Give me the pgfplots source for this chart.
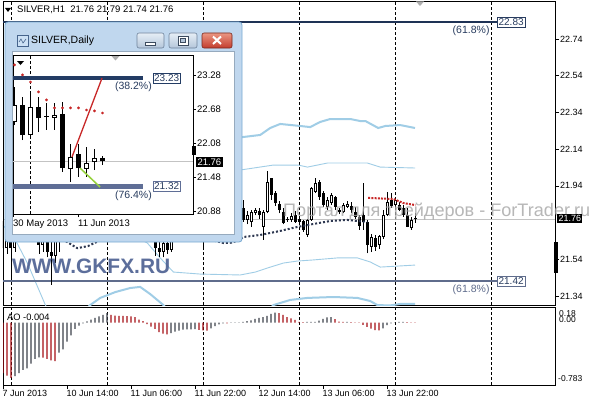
\documentclass[border=0pt]{standalone}
\usepackage{pgfplots}
\pgfplotsset{compat=1.18}
\usepackage{pgfplotstable}
\usepackage{fontspec}
\setmainfont{Liberation Sans}
\usepackage{graphicx}

\definecolor{navyline}{RGB}{30,50,85}
\definecolor{grayblue}{RGB}{95,108,140}
\definecolor{inavy}{RGB}{35,60,100}
\definecolor{igray}{RGB}{95,110,150}
\definecolor{lband}{RGB}{160,205,230}
\definecolor{mdot}{RGB}{45,55,80}
\definecolor{sardot}{RGB}{200,40,40}
\definecolor{aogray}{RGB}{60,65,75}
\definecolor{aored}{RGB}{165,15,20}
\definecolor{framefill}{RGB}{192,215,238}
\definecolor{frameline}{RGB}{120,170,210}
\definecolor{clientline}{RGB}{150,170,190}
\definecolor{wm}{RGB}{75,95,145}
\definecolor{wmtwo}{RGB}{165,165,165}
\definecolor{lblnavy}{RGB}{40,60,95}
\definecolor{grnline}{RGB}{150,210,60}
\definecolor{curline}{RGB}{195,195,195}
\definecolor{btnline}{RGB}{110,130,155}
\definecolor{btntop}{RGB}{230,238,246}
\definecolor{btnbot}{RGB}{180,198,218}
\definecolor{closeline}{RGB}{120,40,30}
\definecolor{closetop}{RGB}{235,150,130}
\definecolor{closebot}{RGB}{195,60,45}
\definecolor{symline}{RGB}{60,75,95}
\definecolor{iconfill}{RGB}{205,225,245}
\definecolor{iconline}{RGB}{70,100,140}
\definecolor{trigray}{RGB}{175,175,175}

\pgfplotstableread{
i o h l c
0 21.75 21.82 21.58 21.60
1 21.60 21.70 21.57 21.66
2 21.66 21.72 21.44 21.60
3 21.60 21.70 21.58 21.68
4 21.68 21.85 21.66 21.80
5 21.80 21.88 21.72 21.75
6 21.75 21.82 21.68 21.78
7 21.78 21.85 21.70 21.72
8 21.72 21.76 21.645 21.67
9 21.67 21.72 21.57 21.62
10 21.62 21.70 21.58 21.66
11 21.66 21.70 21.55 21.58
12 21.58 21.64 21.40 21.56
13 21.56 21.66 21.52 21.64
14 21.64 21.72 21.58 21.70
15 21.70 21.80 21.66 21.78
16 21.78 21.86 21.74 21.84
17 21.84 21.90 21.78 21.80
18 21.80 21.84 21.72 21.76
19 21.76 21.82 21.70 21.79
20 21.79 21.88 21.76 21.86
21 21.86 21.94 21.82 21.90
22 21.90 21.96 21.85 21.87
23 21.87 21.92 21.80 21.83
24 21.83 21.88 21.78 21.86
25 21.86 21.93 21.84 21.91
26 21.91 21.98 21.88 21.95
27 21.95 22.00 21.88 21.90
28 21.90 21.94 21.84 21.86
29 21.86 21.90 21.80 21.82
30 21.82 21.86 21.76 21.84
31 21.84 21.88 21.78 21.80
32 21.80 21.84 21.74 21.77
33 21.77 21.82 21.72 21.80
34 21.80 21.83 21.73 21.75
35 21.75 21.79 21.69 21.72
36 21.72 21.76 21.67 21.74
37 21.74 21.78 21.68 21.70
38 21.70 21.74 21.56 21.60
39 21.60 21.66 21.55 21.58
40 21.58 21.65 21.55 21.63
41 21.63 21.68 21.57 21.59
42 21.59 21.70 21.58 21.67
43 21.67 21.76 21.65 21.74
44 21.74 21.82 21.72 21.80
45 21.80 21.84 21.75 21.77
46 21.77 21.80 21.70 21.72
47 21.72 21.78 21.68 21.76
48 21.76 21.80 21.71 21.73
49 21.73 21.76 21.66 21.70
50 21.70 21.78 21.60 21.74
51 21.74 21.80 21.70 21.78
52 21.78 21.84 21.74 21.76
53 21.76 21.82 21.72 21.80
54 21.80 21.86 21.76 21.78
55 21.78 21.83 21.73 21.75
56 21.75 21.80 21.70 21.78
57 21.78 21.84 21.74 21.82
58 21.82 21.86 21.76 21.79
59 21.79 21.84 21.75 21.817
60 21.817 21.863 21.745 21.754
61 21.754 21.80 21.73 21.78
62 21.745 21.808 21.717 21.799
63 21.792 21.817 21.78 21.808
64 21.80 21.82 21.76 21.78
65 21.717 21.81 21.645 21.799
66 21.799 22.022 21.79 21.962
67 21.981 21.985 21.863 21.890
68 21.903 21.91 21.83 21.845
69 21.84 21.857 21.79 21.81
70 21.799 21.817 21.73 21.736
71 21.755 21.77 21.745 21.752
72 21.754 21.79 21.745 21.775
73 21.781 21.80 21.74 21.745
74 21.76 21.775 21.735 21.745
75 21.750 21.755 21.69 21.699
76 21.672 21.76 21.663 21.754
77 21.754 21.935 21.75 21.926
78 21.908 21.981 21.90 21.954
79 21.962 21.97 21.863 21.881
80 21.899 21.91 21.824 21.835
81 21.826 21.88 21.81 21.863
82 21.845 21.90 21.835 21.89
83 21.881 21.885 21.81 21.826
84 21.81 21.82 21.785 21.795
85 21.799 21.845 21.79 21.835
86 21.826 21.855 21.82 21.842
87 21.83 21.85 21.79 21.81
88 21.799 21.826 21.76 21.772
89 21.77 21.78 21.70 21.72
90 21.78 21.955 21.70 21.745
91 21.745 21.754 21.572 21.617
92 21.608 21.68 21.58 21.663
93 21.654 21.67 21.585 21.608
94 21.617 21.672 21.595 21.666
95 21.663 21.808 21.65 21.781
96 21.781 21.908 21.775 21.853
97 21.863 21.90 21.82 21.83
98 21.835 21.875 21.825 21.863
99 21.835 21.85 21.80 21.808
100 21.82 21.835 21.77 21.781
101 21.781 21.82 21.715 21.717
102 21.708 21.77 21.70 21.754
103 21.758 21.79 21.74 21.762
}\candles

\pgfplotstableread{
k o h l c
0 22.456 23.073 22.40 22.755
1 22.755 22.897 22.138 22.226
2 22.226 22.967 22.20 22.720
3 22.720 22.897 22.279 22.526
4 22.55 22.791 22.315 22.54
5 22.526 22.791 22.315 22.579
6 22.597 22.808 21.574 21.644
7 21.627 22.068 21.397 21.838
8 21.891 22.068 21.486 21.644
9 21.627 22.015 21.486 21.733
10 21.75 21.979 21.609 21.821
11 21.821 21.856 21.70 21.76
}\daily

\pgfplotstableread{
i v
3 -0.758
4 -0.714
5 -0.669
6 -0.647
7 -0.58
8 -0.513
9 -0.49
14 -0.424
15 -0.379
16 -0.268
17 -0.178
18 -0.089
19 -0.04
20 -0.01
21 0.02
22 0.045
23 0.067
24 0.089
25 0.111
26 0.134
42 -0.147
43 -0.125
44 -0.111
45 -0.098
46 -0.096
47 -0.094
48 -0.09
52 -0.08
53 -0.05
54 -0.025
55 -0.008
57 0.004
58 0.005
59 0.006
60 0.012
61 0.022
62 0.031
63 0.054
64 0.067
65 0.08
66 0.098
67 0.125
68 0.143
76 0.01
77 0.01
78 0.012
79 0.03
80 0.055
81 0.075
82 0.078
86 0.012
95 -0.08
96 -0.035
97 -0.01
98 0.006
99 0.01
100 0.012
}\aoup

\pgfplotstableread{
i v
0 -0.714
1 -0.75
2 -0.78
10 -0.495
11 -0.513
12 -0.535
13 -0.544
27 0.111
28 0.10
29 0.098
30 0.096
31 0.094
32 0.089
33 0.08
34 0.045
35 0.022
36 -0.022
37 -0.054
38 -0.089
39 -0.134
40 -0.156
41 -0.165
49 -0.10
50 -0.108
51 -0.112
56 -0.01
69 0.134
70 0.11
71 0.08
72 0.06
73 0.04
74 0.012
75 0.008
83 0.05
84 0.015
85 0.01
87 0.008
88 0.004
89 -0.004
90 -0.03
91 -0.06
92 -0.085
93 -0.105
94 -0.11
101 0.008
102 0.004
103 -0.004
}\aodown

\begin{document}
\begin{tikzpicture}
\fill[white] (0pt,0pt) rectangle (596pt,400pt);

%================ main H1 chart
\begin{axis}[
  at={(3pt,95pt)}, anchor=south west, scale only axis,
  width=552pt, height=304pt,
  xmin=0, xmax=138, ymin=21.2904, ymax=22.9471,
  axis line style={black, line width=0.8pt},
  xtick=\empty,
  ytick={21.34,21.54,21.94,22.14,22.34,22.54,22.74},
  yticklabels={21.34,21.54,21.94,22.14,22.34,22.54,22.74},
  ytick pos=right, yticklabel pos=right, ytick align=outside,
  major tick length=4pt,
  tick style={black, line width=0.6pt},
  yticklabel style={font=\fontsize{9}{10}\selectfont, anchor=west, inner sep=1pt},
  extra x ticks={2,26,50,74,98,122},
  extra x tick labels={,,,,,},
  extra x tick style={grid=major, major tick length=0pt},
  major grid style={black, line width=0.6pt, dash pattern=on 3pt off 2pt},
]
\addplot[curline, line width=0.6pt] coordinates {(0,21.76) (138,21.76)};
% bands
\addplot[lband, line width=2pt] coordinates {(50,22.20) (55,22.20) (60.1,22.206) (64.3,22.217) (66.8,22.255) (69.3,22.277) (74.3,22.266) (76.8,22.260) (79.3,22.288) (81.8,22.304) (86.8,22.304) (89.3,22.293) (90.6,22.293) (93.8,22.255) (95.6,22.266) (99.3,22.271) (103,22.255)};
\addplot[lband, line width=0.9pt] coordinates {(50,22.03) (59.3,22.026) (67.6,22.053) (73.8,22.053) (76.1,22.042) (81.1,22.064) (91.1,22.064) (94.3,22.042) (103,22.037)};
\addplot[lband, line width=0.9pt] coordinates {(30,21.70) (36.1,21.628) (39.3,21.547) (42.6,21.470) (49.3,21.459) (59.3,21.454) (63.1,21.470) (66.1,21.492) (70.1,21.519) (73.6,21.530) (77.6,21.536) (83.6,21.547) (88.6,21.547) (91.8,21.525) (94.3,21.497) (103,21.508)};
\addplot[lband, line width=0.9pt] coordinates {(0,21.726) (3.1,21.645) (6.1,21.519) (10.6,21.29) (13,21.2)};
\addplot[lband, line width=2pt] coordinates {(18,21.2) (21.8,21.290) (24.3,21.329) (28.1,21.361) (31.8,21.383) (34.3,21.389) (36.8,21.350) (40.1,21.290) (44,21.2) (64,21.2) (67.6,21.290) (71.8,21.318) (76.1,21.329) (82.6,21.334) (88.6,21.329) (91.8,21.312) (93.6,21.290) (96.8,21.288) (99.3,21.296) (103,21.296)};
% levels
\addplot[navyline, line width=2pt] coordinates {(0,22.83) (123.5,22.83)};
\addplot[grayblue, line width=2pt] coordinates {(0,21.42) (123.5,21.42)};
% candles: wicks, bodies, white insides
\addplot[draw=none, mark=none, error bars/.cd, y dir=plus, y explicit, error mark=none,
  error bar style={draw=black, line width=0.8pt}]
  table[x=i, y=l, y error plus expr=\thisrow{h}-\thisrow{l}] {\candles};
\addplot[draw=none, mark=none, error bars/.cd, y dir=plus, y explicit, error mark=none,
  error bar style={draw=black, line width=3pt}]
  table[x=i, y expr={min(\thisrow{o},\thisrow{c})}, y error plus expr={max(abs(\thisrow{c}-\thisrow{o}),0.006)}] {\candles};
\addplot[draw=none, mark=none, error bars/.cd, y dir=plus, y explicit, error mark=none,
  error bar style={draw=white, line width=1pt}]
  table[x=i, y expr={\thisrow{o}+0.0055}, y error plus expr={(\thisrow{c}>\thisrow{o})*max(\thisrow{c}-\thisrow{o}-0.011,0)}] {\candles};
% moving average dots and red dots
\addplot[mdot, line width=2pt, dash pattern=on 2pt off 2pt] coordinates {(14,21.66) (18.6,21.600) (21.3,21.612) (24,21.64) (30,21.66) (45,21.66) (53,21.64) (55.2,21.628) (57.2,21.630) (59,21.645) (60.1,21.661) (64.3,21.672) (69.3,21.694) (73.6,21.716) (77.6,21.732) (81.8,21.748) (86.1,21.754) (88.6,21.748) (91.1,21.743)};
\addplot[sardot, line width=2pt, dash pattern=on 2pt off 1.2pt] coordinates {(91.3,21.874) (97.6,21.868) (100.1,21.846) (103.1,21.835)};
% level labels
\node[draw=lblnavy, fill=white, text=lblnavy, inner sep=1.3pt, line width=0.6pt, anchor=west, font=\fontsize{10}{11}\selectfont] at (axis cs:123.5,22.83) {22.83};
\node[text=lblnavy, anchor=north east, inner sep=0.5pt, font=\fontsize{10.5}{11}\selectfont] at (axis cs:121.8,22.815) {(61.8\%)};
\node[draw=grayblue, fill=white, text=lblnavy, inner sep=1.3pt, line width=0.6pt, anchor=west, font=\fontsize{10}{11}\selectfont] at (axis cs:123.5,21.42) {21.42};
\node[text=grayblue, anchor=north east, inner sep=0.5pt, font=\fontsize{10.5}{11}\selectfont] at (axis cs:121.8,21.405) {(61.8\%)};
\end{axis}

%================ AO panel
\begin{axis}[
  at={(3pt,15pt)}, anchor=south west, scale only axis,
  width=552pt, height=78pt,
  xmin=0, xmax=138, ymin=-0.882, ymax=0.222,
  axis line style={black, line width=0.8pt},
  ytick=\empty,
  xtick={0,16,32,48,64,80,96},
  xticklabels={7 Jun 2013,10 Jun 14:00,11 Jun 06:00,11 Jun 22:00,12 Jun 14:00,13 Jun 06:00,13 Jun 22:00},
  xtick pos=bottom, xtick align=outside, major tick length=4pt,
  tick style={black, line width=0.6pt},
  xticklabel style={font=\fontsize{9}{10}\selectfont, anchor=north west, inner sep=1pt, xshift=-1.5pt},
  extra x ticks={2,26,50,74,98,122},
  extra x tick labels={,,,,,},
  extra x tick style={grid=major, major tick length=0pt},
  major grid style={black, line width=0.6pt, dash pattern=on 3pt off 2pt},
]
\addplot[ybar, bar width=1.2pt, bar shift=0pt, fill=aogray, draw=none] table[x=i, y=v] {\aoup};
\addplot[ybar, bar width=1.2pt, bar shift=0pt, fill=aored, draw=none] table[x=i, y=v] {\aodown};
\end{axis}

% AO texts
\node[anchor=west, inner sep=0pt, font=\fontsize{9.3}{10}\selectfont] at (7pt,83pt) {AO -0.004};
\node[anchor=west, inner sep=0pt, font=\fontsize{8.5}{9}\selectfont] at (559pt,86pt) {0.18};
\node[anchor=west, inner sep=0pt, font=\fontsize{8.5}{9}\selectfont] at (559pt,80pt) {0.00};
\node[anchor=west, inner sep=0pt, font=\fontsize{8.5}{9}\selectfont] at (558pt,21pt) {-0.783};

% header
\fill[black] (5pt,392pt) -- (11pt,392pt) -- (8pt,388pt) -- cycle;
\node[anchor=west, inner sep=0pt, font=\fontsize{9.5}{10}\selectfont] at (17pt,390.5pt) {SILVER,H1\ \ 21.76 21.79 21.74 21.76};
\fill[trigray] (416pt,398.5pt) -- (424pt,398.5pt) -- (420pt,394pt) -- cycle;

% watermarks
\node[anchor=west, inner sep=0pt, text=wmtwo, text opacity=0.8] at (283pt,188pt) {\resizebox{307pt}{!}{\fontsize{17}{20}\selectfont Портал для трейдеров - ForTrader.ru}};
\node[anchor=west, inner sep=0pt, text=wm, text opacity=0.9] at (12pt,133.5pt) {\resizebox{158pt}{!}{\fontsize{21}{24}\selectfont\bfseries WWW.GKFX.RU}};

% right-side markers of main chart
\fill[black] (554pt,127pt) rectangle (557.5pt,158pt);
\node[fill=black, text=white, font=\fontsize{9}{10}\selectfont, inner sep=1.3pt, anchor=west] at (557pt,181.5pt) {21.76};

%================ inset window chrome
\draw[draw=frameline, fill=framefill, rounded corners=3pt, line width=0.8pt] (5pt,158pt) rectangle (242pt,378pt);
\draw[draw=clientline, fill=white, line width=0.6pt] (12pt,166pt) rectangle (234pt,349pt);
\draw[fill=iconfill, draw=iconline, line width=0.5pt] (17pt,354pt) rectangle (28pt,365pt);
\draw[iconline, line width=0.6pt] (19pt,358pt) -- (21pt,361pt) -- (23pt,357pt) -- (26pt,361pt);
\node[anchor=west, inner sep=0pt, font=\fontsize{10.5}{12}\selectfont] at (31pt,359pt) {SILVER,Daily};
\draw[draw=btnline, top color=btntop, bottom color=btnbot, rounded corners=2pt, line width=0.6pt] (137pt,352pt) rectangle (164pt,367pt);
\draw[draw=btnline, top color=btntop, bottom color=btnbot, rounded corners=2pt, line width=0.6pt] (169pt,352pt) rectangle (197pt,367pt);
\draw[draw=closeline, top color=closetop, bottom color=closebot, rounded corners=2pt, line width=0.6pt] (202pt,352pt) rectangle (232pt,367pt);
\draw[fill=white, draw=symline, line width=0.5pt] (145.5pt,355pt) rectangle (155.5pt,358pt);
\draw[fill=white, draw=symline, line width=0.5pt] (178pt,355pt) rectangle (188pt,364pt);
\draw[fill=btnbot, draw=symline, line width=0.5pt] (180.5pt,357.5pt) rectangle (185.5pt,361.5pt);
\draw[white, line width=2pt] (213pt,356pt) -- (221pt,363.5pt) (213pt,363.5pt) -- (221pt,356pt);

%================ inset daily chart
\begin{axis}[
  at={(13pt,186pt)}, anchor=south west, scale only axis,
  width=180pt, height=159pt,
  xmin=-0.1875, xmax=22.3125, ymin=20.833, ymax=23.637,
  axis background/.style={fill=white},
  axis line style={black, line width=0.8pt},
  ytick={20.88,21.48,22.08,22.68,23.28},
  yticklabels={20.88,21.48,22.08,22.68,23.28},
  ytick pos=right, yticklabel pos=right, ytick align=outside,
  xtick={-0.1875,7.94}, xticklabels={30 May 2013,11 Jun 2013},
  xtick pos=bottom, xtick align=outside,
  major tick length=3pt,
  tick style={black, line width=0.6pt},
  yticklabel style={font=\fontsize{9.5}{10}\selectfont, anchor=west, inner sep=1pt},
  xticklabel style={font=\fontsize{9.5}{10}\selectfont, anchor=north west, inner sep=1pt, xshift=-1pt, yshift=-2pt},
  extra x ticks={2}, extra x tick labels={},
  extra x tick style={grid=major, major tick length=0pt},
  major grid style={black, line width=0.6pt, dash pattern=on 3pt off 2pt},
]
\addplot[curline, line width=0.6pt] coordinates {(-0.1875,21.76) (22.3125,21.76)};
\addplot[inavy, line width=4.5pt] coordinates {(-0.1875,23.23) (16.06,23.23)};
\addplot[igray, line width=4.5pt] coordinates {(-0.1875,21.32) (16.06,21.32)};
\addplot[draw=none, mark=none, error bars/.cd, y dir=plus, y explicit, error mark=none,
  error bar style={draw=black, line width=1pt}]
  table[x=k, y=l, y error plus expr=\thisrow{h}-\thisrow{l}] {\daily};
\addplot[draw=none, mark=none, error bars/.cd, y dir=plus, y explicit, error mark=none,
  error bar style={draw=black, line width=5pt}]
  table[x=k, y expr={min(\thisrow{o},\thisrow{c})}, y error plus expr={max(abs(\thisrow{c}-\thisrow{o}),0.02)}] {\daily};
\addplot[draw=none, mark=none, error bars/.cd, y dir=plus, y explicit, error mark=none,
  error bar style={draw=white, line width=3pt}]
  table[x=k, y expr={\thisrow{o}+0.018}, y error plus expr={(\thisrow{c}>\thisrow{o})*max(\thisrow{c}-\thisrow{o}-0.036,0)}] {\daily};
\addplot[only marks, mark=*, mark size=1.2pt, sardot] coordinates {(0,23.461) (1,23.285) (2,23.161) (3,22.985) (4,22.844) (5,22.703) (6,22.703) (7,22.703) (8,22.703) (9,22.667) (10,22.650) (11,22.614)};
\addplot[sardot, line width=1.3pt] coordinates {(7.19,21.84) (10.94,23.23)};
\addplot[grnline, line width=1.5pt] coordinates {(8.19,21.644) (10.69,21.309)};
\node[draw=inavy, fill=white, text=lblnavy, inner sep=1.3pt, line width=0.6pt, anchor=west, font=\fontsize{10}{11}\selectfont] at (axis cs:17.25,23.23) {23.23};
\node[text=lblnavy, anchor=north east, inner sep=0.5pt, font=\fontsize{10.5}{11}\selectfont] at (axis cs:17.25,23.17) {(38.2\%)};
\node[draw=igray, fill=white, text=lblnavy, inner sep=1.3pt, line width=0.6pt, anchor=west, font=\fontsize{10}{11}\selectfont] at (axis cs:17.25,21.32) {21.32};
\node[text=lblnavy, anchor=north east, inner sep=0.5pt, font=\fontsize{10.5}{11}\selectfont] at (axis cs:17.25,21.26) {(76.4\%)};
\end{axis}

% inset markers
\fill[black] (17pt,339pt) -- (24pt,339pt) -- (20.5pt,335pt) -- cycle;
\fill[trigray] (111.5pt,344pt) -- (119.5pt,344pt) -- (115.5pt,339.5pt) -- cycle;
\fill[black] (192pt,245pt) rectangle (195.5pt,254pt);
\node[fill=black, text=white, font=\fontsize{9.5}{10}\selectfont, inner sep=1.3pt, anchor=west] at (196pt,238pt) {21.76};

\pgfresetboundingbox
\useasboundingbox (0pt,0pt) rectangle (596pt,400pt);
\end{tikzpicture}
\end{document}
